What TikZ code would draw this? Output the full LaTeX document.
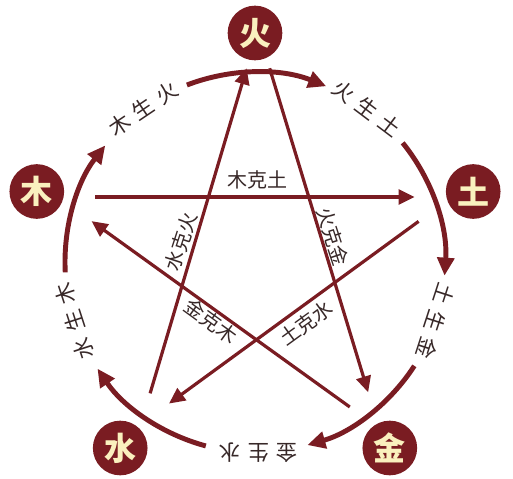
\documentclass[tikz,border=0pt]{standalone}
\usepackage{fontspec}
\newfontfamily\cjk{Noto Sans CJK SC}
\usetikzlibrary{arrows.meta,calc}
\definecolor{wxred}{RGB}{122,28,34}
\definecolor{wxcream}{RGB}{250,240,190}
\definecolor{wxtext}{RGB}{55,40,40}
\newcommand{\lblgap}{\hspace{5.5pt}}
\tikzset{
  element/.style={circle,fill=wxred,text=wxcream,minimum size=41pt,inner sep=0pt,outer sep=0pt,font=\cjk\bfseries\fontsize{24}{24}\selectfont},
  sheng/.style={draw=wxred,line width=3.7pt,-{Triangle[length=13.5pt,width=12.5pt]}},
  ke/.style={draw=wxred,line width=2.4pt,-{Triangle[length=12pt,width=11pt]}},
  lbl/.style={text=wxtext,inner sep=0.75pt,font=\cjk\fontsize{15}{15}\selectfont},
  ringlbl/.style={lbl,font=\cjk\fontsize{16}{16}\selectfont},
}
\begin{document}
\begin{tikzpicture}[x=0.75pt,y=0.75pt,yscale=-1,xscale=1]
\useasboundingbox (0,0) rectangle (513,478);
\coordinate (o) at (255,262.4);

%Shape: Circle
\node[element] (huo) at (255,33) {火};
\node[element] (tu) at (473.2,191.5) {土};
\node[element] (jin) at (389.8,448) {金};
\node[element] (shui) at (120.2,448) {水};
\node[element] (mu) at (36.8,191.5) {木};

%Shape: Arc
\draw[sheng] ($(o)+(-183:190)$) arc[start angle=-183, end angle=-142, radius=190];
\draw[sheng] ($(o)+(-111:190)$) arc[start angle=-111, end angle=-68, radius=190];
\draw[sheng] ($(o)+(-39:190)$) arc[start angle=-39, end angle=4, radius=190];
\draw[sheng] ($(o)+(33:190)$) arc[start angle=33, end angle=74, radius=190];
\draw[sheng] ($(o)+(105:190)$) arc[start angle=105, end angle=146, radius=190];

% Text Node
\node[ringlbl,rotate=34] (mush) at ($(o)+(-126:190)$) {木\lblgap 生\lblgap 火};
\node[ringlbl,rotate=-37] (huosh) at ($(o)+(-54:190)$) {火\lblgap 生\lblgap 土};
\node[ringlbl,rotate=-108] (tush) at ($(o)+(18:190)$) {土\lblgap 生\lblgap 金};
\node[ringlbl,rotate=180] (jinsh) at ($(o)+(89:190)$) {金\lblgap 生\lblgap 水};
\node[ringlbl,rotate=108] (shuish) at ($(o)+(162:190)$) {水\lblgap 生\lblgap 木};

%Star points
\coordinate (phuo) at (258,30);
\coordinate (ptu) at (452,197);
\coordinate (pjin) at (379,428);
\coordinate (pshui) at (141,424);
\coordinate (pmu) at (58,197);

%Straight Lines
\draw[ke,shorten <=28pt,shorten >=28pt] (pmu) -- (ptu);
\draw[ke,shorten <=30pt,shorten >=28pt] (phuo) -- (pjin);
\draw[ke,shorten <=27pt,shorten >=31pt] (pjin) -- (pmu);
\draw[ke,shorten <=31pt,shorten >=26pt] (ptu) -- (pshui);
\draw[ke,shorten <=24pt,shorten >=30pt] (pshui) -- (phuo);

% Text Node
\node[lbl] (muke) at (257,180) {木克土};
\node[lbl,rotate=72] (shuike) at (181,242) {水克火};
\node[lbl,rotate=-72] (huoke) at (333,237) {火克金};
\node[lbl,rotate=-36] (jinke) at (211,321) {金克木};
\node[lbl,rotate=36] (tuke) at (306,323) {土克水};

\end{tikzpicture}
\end{document}
